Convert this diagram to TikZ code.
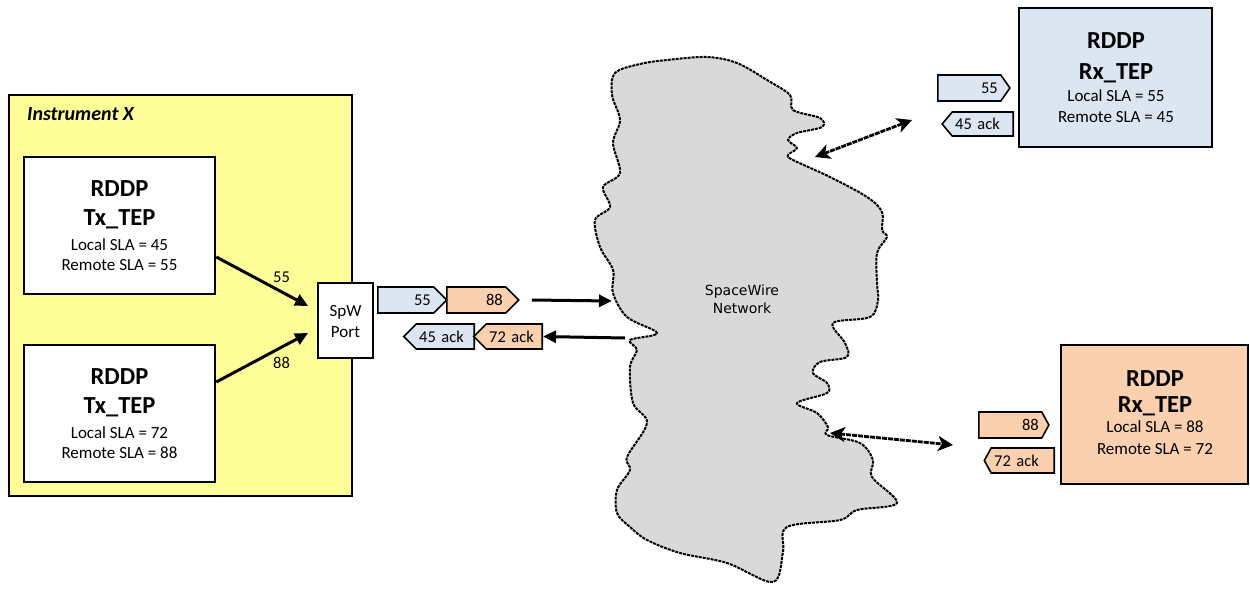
\documentclass[tikz,border=0pt]{standalone}
\usepackage{fontspec}
\setmainfont{Carlito}
\newfontfamily\cloudfont{DejaVu Sans}
\usetikzlibrary{arrows.meta,shapes.symbols,calc}
\definecolor{instyellow}{HTML}{FFFF99}
\definecolor{pktblue}{HTML}{DCE6F2}
\definecolor{pktorange}{HTML}{FAD0AE}
\definecolor{cloudgray}{HTML}{D9D9D9}
\newcommand{\hd}{\fontsize{24.5}{28}\selectfont\bfseries}
\begin{document}
\begin{tikzpicture}[x=1pt,y=-1pt,
  frame/.style={draw=black,line width=2.6pt,inner sep=0pt,rectangle},
  lbl/.style={font=\fontsize{17}{20}\selectfont,align=center,inner sep=0pt,anchor=north},
  pkt/.style={signal,draw=black,line width=1.6pt,minimum height=26pt,inner xsep=3pt,inner ysep=0pt,
    font=\fontsize{16.5}{18}\selectfont},
  pktR/.style={pkt,signal to=east,align=right,anchor=west},
  pktL/.style={pkt,signal to=west,align=left,anchor=east},
  flow/.style={line width=3pt,-{Triangle[length=13pt,width=12pt]}},
  link/.style={line width=2.8pt,dash pattern=on 5pt off 1pt,
    {Stealth[length=15pt,width=15pt,inset=4pt]}-{Stealth[length=15pt,width=15pt,inset=4pt]}},
  cloudshape/.style={fill=cloudgray,draw=black,line width=2pt,line join=round,dash pattern=on 3pt off 1pt},
  num/.style={font=\fontsize{16.5}{18}\selectfont,inner sep=0pt}]
\useasboundingbox (0,0) rectangle (1250,590);

% ---- Instrument X ----
\node[frame,fill=instyellow,minimum width=343pt,minimum height=401pt] (inst) at (180.5,295.5) {};
\node[anchor=base west,inner sep=0pt,font=\fontsize{20}{22}\selectfont\bfseries\itshape] (instlbl) at (27,120) {Instrument X};

\node[frame,fill=white,minimum width=191pt,minimum height=137pt] (tx1) at (119.5,225.5) {};
\node[lbl] (tx1t) at (119.5,180) {{\hd RDDP}\\[9pt]{\hd Tx\_TEP}\\[5pt]Local SLA = 45\\Remote SLA = 55};
\node[frame,fill=white,minimum width=191pt,minimum height=137pt] (tx2) at (119.5,413.5) {};
\node[lbl] (tx2t) at (119.5,368) {{\hd RDDP}\\[9pt]{\hd Tx\_TEP}\\[5pt]Local SLA = 72\\Remote SLA = 88};

\node[draw=black,line width=1.8pt,fill=white,minimum width=55pt,minimum height=75pt,inner sep=0pt] (spw) at (345.5,320.5) {};
\node[lbl,font=\fontsize{17}{21}\selectfont] (spwt) at (345.5,305) {SpW\\Port};

\draw[flow] ([yshift=-31.5pt]tx1.east) -- ([xshift=-9pt,yshift=14.5pt]spw.west);
\draw[flow] ([yshift=31.5pt]tx2.east) -- ([xshift=-9pt,yshift=-12.5pt]spw.west);
\node[num] (l55) at (281.5,277) {55};
\node[num] (l88) at (281.5,363) {88};

% ---- packets near SpW port ----
\node[pktR,fill=pktblue,text width=50pt] (p55) at (377,300) {55};
\node[pktR,fill=pktorange,text width=53pt] (p88) at (446,300) {88};
\node[pktL,fill=pktblue,text width=52pt,minimum height=25pt] (a45) at (475,336.5) {45 ack};
\node[pktL,fill=pktorange,text width=50pt,minimum height=25pt] (a72) at (543,336.5) {72 ack};

% ---- cloud ----
\draw[cloudshape] plot[smooth cycle,tension=0.55] coordinates {
 (615,73) (640,64) (667,60) (707,57) (737,63) (767,80) (790,95) (793,110) (820,118) (822,127)
 (797,133) (788,140) (797,148) (788,155) (793,160) (830,177) (867,197) (882,212) (882,230)
 (887,237) (877,253) (877,283) (878,300) (870,317) (833,323) (845,343) (847,357) (820,362)
 (813,373) (827,383) (827,393) (797,403) (817,413) (828,427) (827,435) (860,443) (873,460)
 (872,477) (897,503) (857,510) (840,520) (787,527) (783,552) (773,582) (727,563) (680,553)
 (647,540) (630,527) (617,513) (617,490) (630,470) (627,457) (647,423) (633,403) (630,367)
 (637,350) (630,340) (657,333) (627,317) (613,293) (613,270) (600,247) (595,220) (610,207)
 (603,187) (620,173) (613,143) (620,120) (612,95)};
\node[lbl,font=\cloudfont\fontsize{14}{18}\selectfont] (net) at (742,285) {SpaceWire\\Network};

\coordinate (cin) at (612,301);
\coordinate (cout) at (625,338);
\coordinate (ctop) at (815,157);
\coordinate (cbot) at (830,433);
\coordinate (rtop) at (912,120);
\coordinate (rbot) at (953,445);

\draw[flow] ([xshift=12pt]p88.east) -- (cin);
\draw[flow] (cout) -- (a72.east);
\draw[link] (ctop) -- (rtop);
\draw[link] (cbot) -- (rbot);

% ---- Rx top ----
\node[frame,fill=pktblue,minimum width=193pt,minimum height=139pt] (rx1) at (1115.5,77.5) {};
\node[lbl] (rx1t) at (1116,32) {{\hd RDDP}\\[11pt]{\hd Rx\_TEP}\\[2pt]Local SLA = 55\\[1pt]Remote SLA = 45};
\node[pktR,fill=pktblue,text width=57pt,signal pointer angle=110] (q55) at (937,88) {55};
\node[pktL,fill=pktblue,text width=55pt,minimum height=24pt,signal pointer angle=100] (b45) at (1014,124) {45 ack};

% ---- Rx bottom ----
\node[frame,fill=pktorange,minimum width=187pt,minimum height=139pt] (rx2) at (1154.5,414.5) {};
\node[lbl] (rx2t) at (1155,370) {{\hd RDDP}\\[6pt]{\hd Rx\_TEP}\\[0pt]Local SLA = 88\\[2pt]Remote SLA = 72};
\node[pktR,fill=pktorange,text width=57pt,signal pointer angle=123] (q88) at (978,425) {88};
\node[pktL,fill=pktorange,text width=57pt,minimum height=25pt,signal pointer angle=122] (b72) at (1055,460.5) {72 ack};
\end{tikzpicture}
\end{document}
